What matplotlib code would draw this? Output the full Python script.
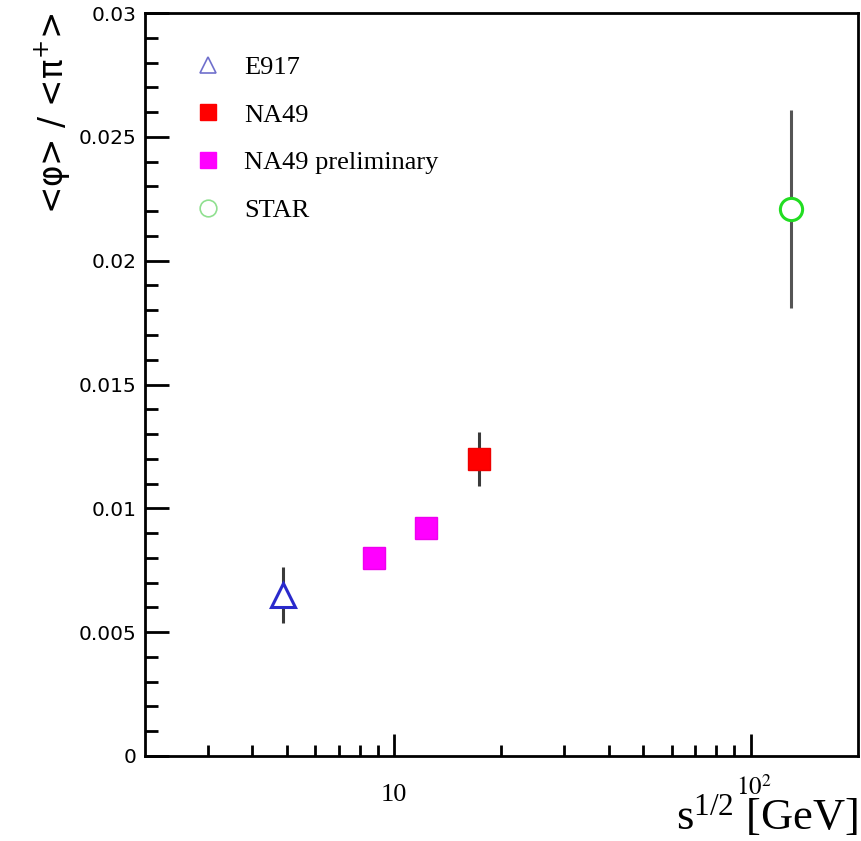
# -*- coding: utf-8 -*-

# phi / pi+ ratio versus collision energy
import numpy as np
import matplotlib.pyplot as plt
from matplotlib.ticker import FixedLocator, NullFormatter, FixedFormatter

# Data
e917_x = [4.88]
e917_y = [0.0065]
e917_err = [0.00113]

na49_x = [17.3]
na49_y = [0.0120]
na49_err = [0.0011]

na49p_x = [8.77, 12.3]
na49p_y = [0.0080, 0.0092]

star_x = [130.0]
star_y = [0.0221]
star_err = [0.0040]

labels = ['E917', 'NA49', 'NA49 preliminary', 'STAR']

fig = plt.figure(figsize=(8.61, 8.41), dpi=100)
ax = fig.add_axes([0.1684, 0.1011, 0.8281, 0.8834])

errcol = '#3a3a3a'
ax.errorbar(e917_x, e917_y, yerr=e917_err, fmt='none', ecolor=errcol,
            elinewidth=2.2, capsize=0, zorder=2)
ax.errorbar(na49_x, na49_y, yerr=na49_err, fmt='none', ecolor=errcol,
            elinewidth=2.2, capsize=0, zorder=2)
ax.errorbar(star_x, star_y, yerr=star_err, fmt='none', ecolor='#555555',
            elinewidth=2.2, capsize=0, zorder=2)

ax.plot(e917_x, e917_y, ls='none', marker='^', ms=17, mfc='white',
        mec='#2a2acc', mew=2.2, zorder=3)
ax.plot(na49_x, na49_y, ls='none', marker='s', ms=16, mfc='#ff0000',
        mec='#ee0000', mew=1, zorder=3)
ax.plot(na49p_x, na49p_y, ls='none', marker='s', ms=16, mfc='#ff00ff',
        mec='#ee00ee', mew=1, zorder=3)
ax.plot(star_x, star_y, ls='none', marker='o', ms=16, mfc='white',
        mec='#22dd22', mew=2.2, zorder=3)

# legend handles
h1, = ax.plot([], [], ls='none', marker='^', ms=12, mfc='white',
              mec='#7070cc', mew=1.2)
h2, = ax.plot([], [], ls='none', marker='s', ms=12, mfc='#ff0000', mec='#ff0000')
h3, = ax.plot([], [], ls='none', marker='s', ms=12, mfc='#ff00ff', mec='#ff00ff')
h4, = ax.plot([], [], ls='none', marker='o', ms=12, mfc='white',
              mec='#90e090', mew=1.2)
ax.legend([h1, h2, h3, h4], labels, loc='upper left',
          bbox_to_anchor=(0.037, 0.975), frameon=False, handlelength=1.0,
          handletextpad=0.85, labelspacing=0.92,
          prop={'family': 'Liberation Serif', 'size': 19})

ax.set_xscale('log')
ax.set_xlim(2, 200)
ax.set_ylim(0, 0.03)

ax.xaxis.set_major_locator(FixedLocator([10, 100]))
ax.xaxis.set_major_formatter(FixedFormatter(['10', '']))
minors = [m * d for d in (1, 10) for m in range(2, 10) if 2 < m * d < 200]
ax.xaxis.set_minor_locator(FixedLocator(minors))
ax.xaxis.set_minor_formatter(NullFormatter())

ax.set_yticks(np.arange(0, 0.0301, 0.005))
ax.set_yticklabels(['0', '0.005', '0.01', '0.015', '0.02', '0.025', '0.03'])
ax.set_yticks(np.arange(0, 0.0301, 0.001), minor=True)

ax.tick_params(axis='both', which='both', direction='in', top=False,
               right=False, width=2)
ax.tick_params(axis='x', which='major', length=16, pad=20)
ax.tick_params(axis='x', which='minor', length=8)
ax.tick_params(axis='y', which='major', length=17, pad=6, labelsize=14.5)
ax.tick_params(axis='y', which='minor', length=9)
for lab in ax.get_xticklabels():
    lab.set_family('Liberation Serif')
    lab.set_fontsize(19)

for s in ax.spines.values():
    s.set_linewidth(2)

# the 10^2 label sits a bit higher than the 10 label
ax.text(102, -0.00075, r'$10^{2}$', ha='center', va='top', fontsize=18,
        math_fontfamily='stix')

fig.text(0.997, 0.003, r'$\mathregular{s^{1/2}}$ [GeV]', ha='right',
         va='bottom', fontsize=32, family='Liberation Serif',
         math_fontfamily='stix')

fig.text(0.062, 0.985, r'<$\mathregular{\varphi}$> / <$\mathregular{\pi^{+}}$>',
         rotation=90, ha='center', va='top', fontsize=23.5,
         family='DejaVu Sans')

plt.savefig('out.png', dpi=100)
